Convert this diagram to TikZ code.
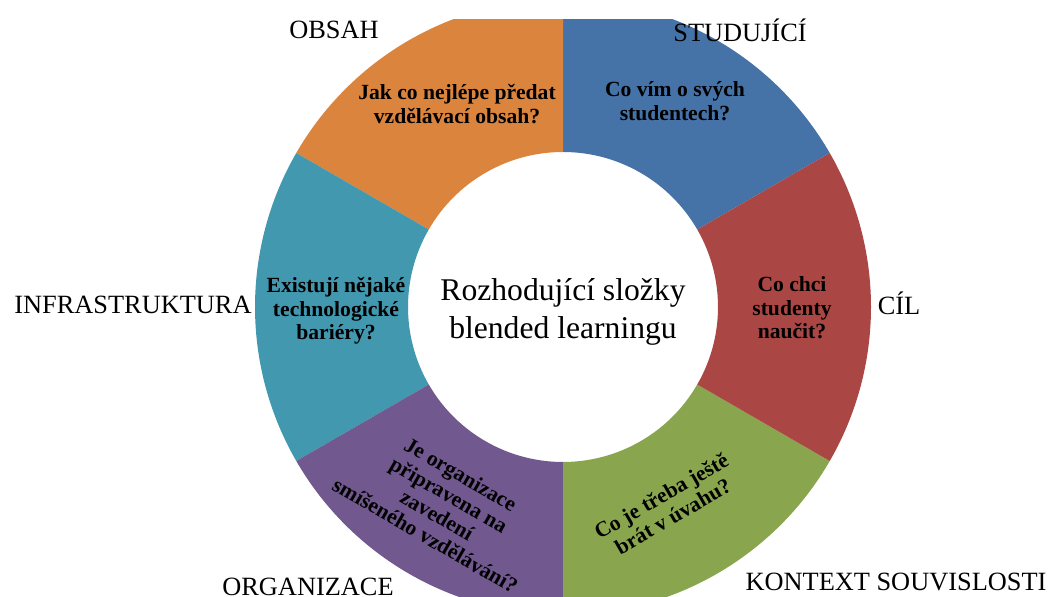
\documentclass[tikz,border=0pt]{standalone}
\usepackage{fontspec}
\setmainfont{Liberation Serif}
\usetikzlibrary{calc}
\definecolor{segblue}{HTML}{4572A7}
\definecolor{segred}{HTML}{AA4643}
\definecolor{seggreen}{HTML}{89A54E}
\definecolor{segpurple}{HTML}{71588F}
\definecolor{segteal}{HTML}{4198AF}
\definecolor{segorange}{HTML}{DB843D}
\tikzset{outlabel/.style={font=\fontsize{15}{18}\selectfont, inner sep=0pt}}
\tikzset{question/.style={font=\bfseries\fontsize{12.3}{13.4}\selectfont, align=center, inner sep=0pt}}
\tikzset{hub/.style={font=\fontsize{18}{22}\selectfont, align=center, inner sep=0pt}}

\begin{document}
\begin{tikzpicture}[x=0.02cm,y=0.02cm]
\useasboundingbox (0,0) rectangle (1051,597);
\coordinate (c) at (563,290);

% ring of six parts
\begin{scope}
\clip (0,0) rectangle (1051,577);
\foreach \a/\col in {30/segblue, 90/segorange, 150/segteal, 210/segpurple, 270/seggreen, 330/segred}{
  \fill[\col] ($(c)+(\a:308)$) arc[start angle=\a, end angle=\a+60, radius=308]
    -- ($(c)+(\a+60:155)$) arc[start angle=\a+60, end angle=\a, radius=155] -- cycle;
}
\end{scope}

\node[hub] (hub) at (563,285) {Rozhodující složky\\blended learningu};

\node[question] (qobsah) at (457,493) {Jak co nejlépe předat\\vzdělávací obsah?};
\node[question] (qstud) at (675,496) {Co vím o svých\\studentech?};
\node[question] (qcil) at (792,289) {Co chci\\studenty\\naučit?};
\node[question] (qinfra) at (336,286) {Existují nějaké\\technologické\\bariéry?};
\node[question, rotate=-30] (qorg) at (443,92) {Je organizace\\připravena na\\zavedení\\smíšeného vzdělávání?};
\node[question, rotate=30] (qkont) at (667,91) {Co je třeba ještě\\brát v úvahu?};

\node[outlabel] (obsah) at (334,567) {OBSAH};
\node[outlabel] (stud) at (740,567) {STUDUJÍCÍ};
\node[outlabel] (cil) at (899,294) {CÍL};
\node[outlabel] (infra) at (133,292) {INFRASTRUKTURA};
\node[outlabel] (org) at (308,10) {ORGANIZACE};
\node[outlabel] (kont) at (896,15) {KONTEXT SOUVISLOSTI};
\end{tikzpicture}
\end{document}
